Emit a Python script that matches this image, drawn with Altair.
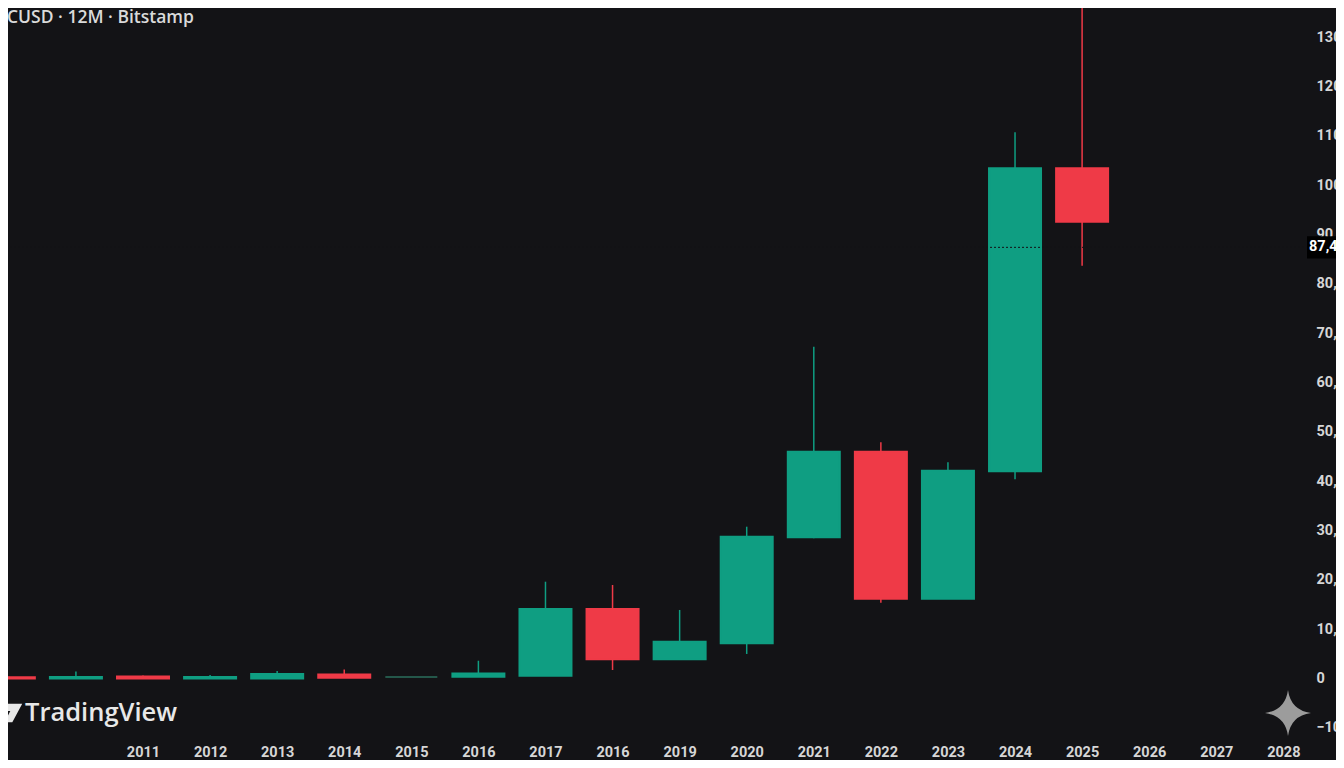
import altair as alt
import pandas as pd

# ---------------- data (USD) ----------------
years  = [2009, 2010, 2011, 2012, 2013, 2014, 2015, 2016, 2017, 2018, 2019, 2020, 2021, 2022, 2023, 2024, 2025]
opens  = [250,  0,    400,  0,    0,    800,  300,  350,  570,   14090, 3890,  7140,  28620, 45980, 16180, 42000,  103430]
highs  = [350,  1400, 600,  700,  1500, 1800, 350,  3600, 19620, 18950, 13890, 30770, 67260, 47880, 43830, 110720, 140000]
lows   = [0,    0,    0,    0,    0,    150,  250,  300,  500,   1720,  3750,  4970,  28420, 15370, 16180, 40380,  83680]
closes = [0,    300,  0,    300,  900,  150,  300,  1000, 14090, 3890,  7460,  28750, 45980, 16180, 42120, 103430, 92600]

x_tick_years  = list(range(2011, 2029))
x_tick_labels = ["2011", "2012", "2013", "2014", "2015", "2016", "2017", "2016", "2019",
                 "2020", "2021", "2022", "2023", "2024", "2025", "2026", "2027", "2028"]
y_ticks = [-10000, 0, 10000, 20000, 30000, 40000, 50000, 60000, 70000,
           80000, 90000, 100000, 110000, 120000, 130000]
current_price = 87400
title_text = "CUSD · 12M · Bitstamp"
brand_text = "TradingView"

# ---------------- layout / style ----------------
W, H = 1300, 732
X_DOMAIN = [2009.062, 2028.293]
Y_DOMAIN = [-12470, 135920]
BG = "#131316"
UP, DOWN, FLAT = "#0f9e82", "#ef3a47", "#24574a"
LABEL_FONT = "Roboto"
LABEL_COLOR = "#d6d6d6"

df = pd.DataFrame({"year": years, "open": opens, "high": highs, "low": lows, "close": closes})

cscale = alt.Scale(domain=["up", "down", "flat"], range=[UP, DOWN, FLAT])
xscale = alt.Scale(domain=X_DOMAIN, nice=False, zero=False)
yscale = alt.Scale(domain=Y_DOMAIN, nice=False, zero=False)

label_expr = "[" + ",".join("'%s'" % l for l in x_tick_labels) + "][datum.value - %d]" % x_tick_years[0]

xaxis = alt.Axis(values=x_tick_years, labelExpr=label_expr, domain=False, ticks=False, grid=False,
                 labelColor=LABEL_COLOR, labelFont=LABEL_FONT, labelFontSize=14.5, labelFontWeight="bold",
                 labelPadding=12, labelBaseline="middle", labelOverlap=False, labelFlush=False)
yaxis = alt.Axis(orient="right", values=y_ticks, format=",.0f", domain=False, ticks=False, grid=False,
                 labelColor=LABEL_COLOR, labelFont=LABEL_FONT, labelFontSize=14.5, labelFontWeight="bold",
                 labelPadding=8, labelAlign="left", labelBaseline="middle", labelOverlap=False, labelFlush=False)


def X(field):
    return alt.X(field, scale=xscale, axis=xaxis, title=None)


def Y(field):
    return alt.Y(field, scale=yscale, axis=yaxis, title=None)


base = alt.Chart(df).transform_calculate(
    dir="datum.close > datum.open ? 'up' : (datum.close < datum.open ? 'down' : 'flat')"
)

wicks = base.mark_rule(strokeWidth=1.5, clip=True).encode(
    x=X("year:Q"), y=Y("low:Q"), y2="high:Q",
    color=alt.Color("dir:N", scale=cscale, legend=None),
)

bodies = base.mark_bar(size=52, strokeWidth=2, clip=True, opacity=1).encode(
    x=X("year:Q"), y=Y("open:Q"), y2="close:Q",
    color=alt.Color("dir:N", scale=cscale, legend=None),
    stroke=alt.Stroke("dir:N", scale=cscale, legend=None),
)

price_df = pd.DataFrame({"price": [current_price]})
price_line = alt.Chart(price_df).mark_rule(strokeDash=[2, 2], color=BG, strokeWidth=1).encode(
    y=Y("price:Q")
)
BOX = "M-1,-0.48 L1,-0.48 L1,0.48 L-1,0.48 Z"
price_box = alt.Chart(price_df).mark_point(shape=BOX, size=2116, filled=True, color="#000000",
                                           opacity=1, strokeWidth=0).encode(
    x=alt.value(W + 22), y=Y("price:Q")
)
price_text = alt.Chart(price_df).mark_text(align="left", baseline="middle", color="#ffffff",
                                           font=LABEL_FONT, fontSize=14.5, fontWeight="bold").encode(
    x=alt.value(W + 1), y=Y("price:Q"), text=alt.Text("price:Q", format=",.0f")
)

one = pd.DataFrame({"t": [title_text], "b": [brand_text]})
title = alt.Chart(one).mark_text(align="left", baseline="middle", font="Open Sans", fontSize=17.5,
                                 fontWeight=600, color="#dadada").encode(
    x=alt.value(-1), y=alt.value(10), text="t:N"
)
brand = alt.Chart(one).mark_text(align="left", baseline="middle", font="Open Sans", fontSize=25.5,
                                 fontWeight=600, color="#e8e8e8").encode(
    x=alt.value(17), y=alt.value(705), text="b:N"
)
LOGO = "M-1,-0.7 L1,-0.7 L0.25,0.7 L-0.35,0.7 L0.1,-0.15 L-1,-0.15 Z"
logo = alt.Chart(one).mark_point(shape=LOGO, size=700, filled=True, color="#e8e8e8",
                                 opacity=1, strokeWidth=0).encode(
    x=alt.value(1), y=alt.value(705)
)
STAR = "M0,-1 Q0.12,-0.12 1,0 Q0.12,0.12 0,1 Q-0.12,0.12 -1,0 Q-0.12,-0.12 0,-1 Z"
sparkle = alt.Chart(one).mark_point(shape=STAR, size=2116, filled=True, color="#9c9c9c",
                                    opacity=1, strokeWidth=0).encode(
    x=alt.value(1280), y=alt.value(705)
)

chart = alt.layer(
    wicks, bodies, price_line, price_box, price_text, title, brand, logo, sparkle
).properties(
    width=W, height=H,
    autosize=alt.AutoSizeParams(type="none"),
    padding={"left": 0, "top": 0, "right": 28, "bottom": 20},
    background=BG,
).configure_view(strokeWidth=0, fill=BG)

chart.save("out.html", embed_options={"renderer": "svg", "actions": False})
